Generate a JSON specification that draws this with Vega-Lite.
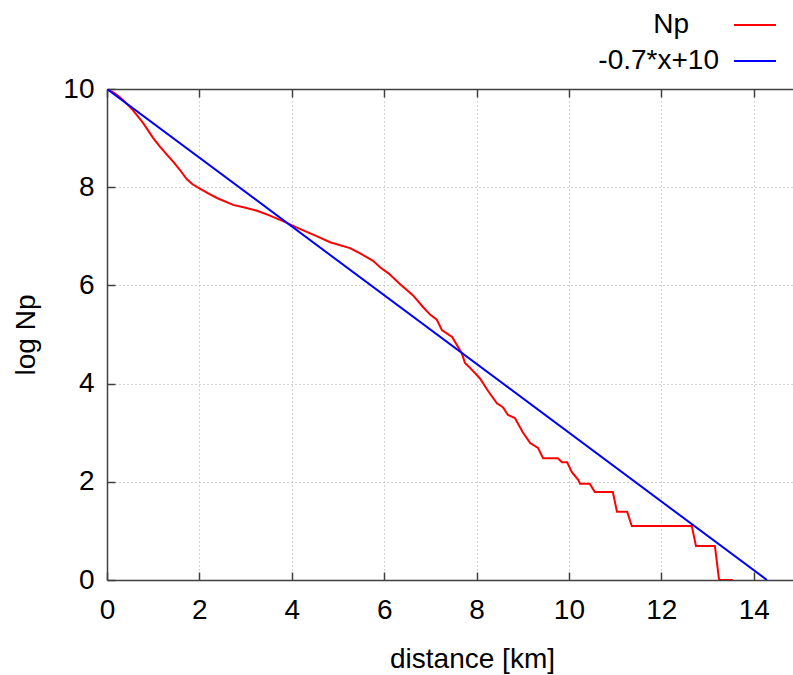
{
  "$schema": "https://vega.github.io/schema/vega-lite/v6.json",
  "autosize": {"type": "none"},
  "padding": {"left": 107, "top": 89, "right": 0, "bottom": 95},
  "width": 686,
  "height": 491,
  "background": "white",
  "config": {
    "view": {"stroke": null},
    "font": "Liberation Sans",
    "axis": {
      "labelFont": "Liberation Sans",
      "titleFont": "Liberation Sans",
      "labelFontSize": 28,
      "titleFontSize": 28,
      "labelColor": "#000000",
      "titleColor": "#000000",
      "titleFontWeight": "normal",
      "domainColor": "#404040",
      "domainWidth": 1.5,
      "tickColor": "#404040",
      "tickWidth": 1.5,
      "tickSize": -8,
      "gridColor": "#a8a8a8",
      "gridDash": [1, 3],
      "gridWidth": 1
    },
    "legend": {
      "labelFont": "Liberation Sans",
      "labelFontSize": 28,
      "labelColor": "#000000"
    }
  },
  "datasets": {
    "np": [
      {"distance": 0, "logNp": 10, "series": "Np"},
      {"distance": 0.15, "logNp": 9.92, "series": "Np"},
      {"distance": 0.28, "logNp": 9.83, "series": "Np"},
      {"distance": 0.45, "logNp": 9.68, "series": "Np"},
      {"distance": 0.56, "logNp": 9.57, "series": "Np"},
      {"distance": 0.78, "logNp": 9.31, "series": "Np"},
      {"distance": 1.0, "logNp": 9.0, "series": "Np"},
      {"distance": 1.15, "logNp": 8.82, "series": "Np"},
      {"distance": 1.3, "logNp": 8.66, "series": "Np"},
      {"distance": 1.45, "logNp": 8.5, "series": "Np"},
      {"distance": 1.58, "logNp": 8.35, "series": "Np"},
      {"distance": 1.72, "logNp": 8.17, "series": "Np"},
      {"distance": 1.85, "logNp": 8.06, "series": "Np"},
      {"distance": 2.01, "logNp": 7.97, "series": "Np"},
      {"distance": 2.2, "logNp": 7.87, "series": "Np"},
      {"distance": 2.38, "logNp": 7.78, "series": "Np"},
      {"distance": 2.73, "logNp": 7.64, "series": "Np"},
      {"distance": 3.0, "logNp": 7.58, "series": "Np"},
      {"distance": 3.25, "logNp": 7.52, "series": "Np"},
      {"distance": 3.5, "logNp": 7.43, "series": "Np"},
      {"distance": 3.81, "logNp": 7.31, "series": "Np"},
      {"distance": 4.1, "logNp": 7.18, "series": "Np"},
      {"distance": 4.5, "logNp": 7.02, "series": "Np"},
      {"distance": 4.83, "logNp": 6.88, "series": "Np"},
      {"distance": 5.26, "logNp": 6.76, "series": "Np"},
      {"distance": 5.5, "logNp": 6.64, "series": "Np"},
      {"distance": 5.76, "logNp": 6.5, "series": "Np"},
      {"distance": 5.91, "logNp": 6.37, "series": "Np"},
      {"distance": 6.1, "logNp": 6.24, "series": "Np"},
      {"distance": 6.34, "logNp": 6.03, "series": "Np"},
      {"distance": 6.62, "logNp": 5.8, "series": "Np"},
      {"distance": 6.84, "logNp": 5.56, "series": "Np"},
      {"distance": 7.0, "logNp": 5.4, "series": "Np"},
      {"distance": 7.14, "logNp": 5.3, "series": "Np"},
      {"distance": 7.25, "logNp": 5.09, "series": "Np"},
      {"distance": 7.47, "logNp": 4.95, "series": "Np"},
      {"distance": 7.68, "logNp": 4.62, "series": "Np"},
      {"distance": 7.75, "logNp": 4.42, "series": "Np"},
      {"distance": 7.86, "logNp": 4.32, "series": "Np"},
      {"distance": 8.07, "logNp": 4.11, "series": "Np"},
      {"distance": 8.25, "logNp": 3.85, "series": "Np"},
      {"distance": 8.44, "logNp": 3.6, "series": "Np"},
      {"distance": 8.57, "logNp": 3.52, "series": "Np"},
      {"distance": 8.68, "logNp": 3.36, "series": "Np"},
      {"distance": 8.83, "logNp": 3.3, "series": "Np"},
      {"distance": 9.0, "logNp": 3.01, "series": "Np"},
      {"distance": 9.16, "logNp": 2.79, "series": "Np"},
      {"distance": 9.33, "logNp": 2.69, "series": "Np"},
      {"distance": 9.44, "logNp": 2.48, "series": "Np"},
      {"distance": 9.76, "logNp": 2.48, "series": "Np"},
      {"distance": 9.85, "logNp": 2.4, "series": "Np"},
      {"distance": 9.96, "logNp": 2.4, "series": "Np"},
      {"distance": 10.06, "logNp": 2.2, "series": "Np"},
      {"distance": 10.2, "logNp": 2.04, "series": "Np"},
      {"distance": 10.24, "logNp": 1.96, "series": "Np"},
      {"distance": 10.45, "logNp": 1.96, "series": "Np"},
      {"distance": 10.56, "logNp": 1.79, "series": "Np"},
      {"distance": 10.95, "logNp": 1.79, "series": "Np"},
      {"distance": 11.04, "logNp": 1.39, "series": "Np"},
      {"distance": 11.26, "logNp": 1.39, "series": "Np"},
      {"distance": 11.36, "logNp": 1.1, "series": "Np"},
      {"distance": 12.66, "logNp": 1.1, "series": "Np"},
      {"distance": 12.75, "logNp": 0.69, "series": "Np"},
      {"distance": 13.16, "logNp": 0.69, "series": "Np"},
      {"distance": 13.25, "logNp": 0, "series": "Np"},
      {"distance": 13.55, "logNp": 0, "series": "Np"}
    ],
    "fit": [
      {"distance": 0, "logNp": 10, "series": "-0.7*x+10"},
      {"distance": 14.2857, "logNp": 0, "series": "-0.7*x+10"}
    ]
  },
  "resolve": {
    "axis": {"x": "independent"},
    "scale": {"color": "independent"},
    "legend": {"color": "independent"}
  },
  "layer": [
    {
      "data": {"name": "np"},
      "mark": {"type": "line", "strokeWidth": 2, "clip": true},
      "encoding": {
        "x": {
          "field": "distance", "type": "quantitative",
          "scale": {"domain": [0, 14.85], "nice": false, "zero": false},
          "axis": {
            "orient": "bottom",
            "values": [0, 2, 4, 6, 8, 10, 12, 14],
            "title": "distance [km]",
            "titleX": 365, "titleY": 87, "titleBaseline": "alphabetic",
            "titleAnchor": null,
            "labelPadding": 24,
            "grid": true,
            "labelFlush": false
          }
        },
        "y": {
          "field": "logNp", "type": "quantitative",
          "scale": {"domain": [0, 10], "nice": false},
          "axis": {
            "values": [0, 2, 4, 6, 8, 10],
            "title": "log Np",
            "titleX": -73, "titleY": 245.5, "titleBaseline": "alphabetic",
            "titleAngle": 270, "titleAlign": "center",
            "labelPadding": 21,
            "grid": true,
            "labelFlush": false
          }
        },
        "color": {
          "field": "series", "type": "nominal",
          "scale": {"domain": ["Np"], "range": ["#ff0000"]},
          "legend": {
            "title": null,
            "orient": "none",
            "legendX": 626,
            "legendY": -86,
            "padding": 0,
            "symbolType": "stroke",
            "symbolSize": 1764,
            "symbolStrokeWidth": 2,
            "labelAlign": "right",
            "labelOffset": -88
          }
        }
      }
    },
    {
      "data": {"name": "fit"},
      "mark": {"type": "line", "strokeWidth": 2, "clip": true},
      "encoding": {
        "x": {
          "field": "distance", "type": "quantitative",
          "scale": {"domain": [0, 14.85], "nice": false, "zero": false},
          "axis": {
            "orient": "top",
            "values": [0, 2, 4, 6, 8, 10, 12, 14],
            "labels": false,
            "title": null,
            "grid": false
          }
        },
        "y": {"field": "logNp", "type": "quantitative"},
        "color": {
          "field": "series", "type": "nominal",
          "scale": {"domain": ["-0.7*x+10"], "range": ["#0000ff"]},
          "legend": {
            "title": null,
            "orient": "none",
            "legendX": 626,
            "legendY": -50,
            "padding": 0,
            "symbolType": "stroke",
            "symbolSize": 1764,
            "symbolStrokeWidth": 2,
            "labelAlign": "right",
            "labelOffset": -58
          }
        }
      }
    }
  ]
}
